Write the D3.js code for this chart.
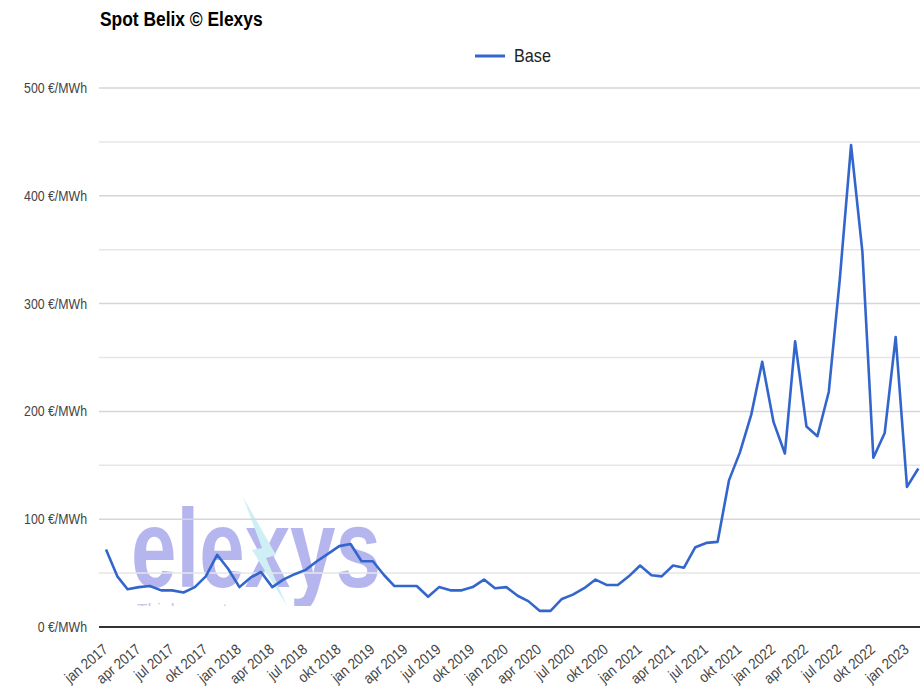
<!DOCTYPE html>
<html>
<head>
<meta charset="utf-8">
<script src="https://cdn.jsdelivr.net/npm/d3@7"></script>
<style>
  body { margin: 0; background: #fff; }
  svg { display: block; font-family: "Liberation Sans", Arial, sans-serif; }
</style>
</head>
<body>
<svg width="920" height="688"></svg>
<script>
// monthly spot price, jan 2017 .. feb 2023
var months = [
  "2017-01","2017-02","2017-03","2017-04","2017-05","2017-06","2017-07","2017-08","2017-09","2017-10","2017-11","2017-12",
  "2018-01","2018-02","2018-03","2018-04","2018-05","2018-06","2018-07","2018-08","2018-09","2018-10","2018-11","2018-12",
  "2019-01","2019-02","2019-03","2019-04","2019-05","2019-06","2019-07","2019-08","2019-09","2019-10","2019-11","2019-12",
  "2020-01","2020-02","2020-03","2020-04","2020-05","2020-06","2020-07","2020-08","2020-09","2020-10","2020-11","2020-12",
  "2021-01","2021-02","2021-03","2021-04","2021-05","2021-06","2021-07","2021-08","2021-09","2021-10","2021-11","2021-12",
  "2022-01","2022-02","2022-03","2022-04","2022-05","2022-06","2022-07","2022-08","2022-09","2022-10","2022-11","2022-12",
  "2023-01","2023-02"
];
var base = [
  72, 47, 35, 37, 38, 34, 34, 32, 37, 47, 67, 54,
  37, 46, 51, 37, 44, 49, 53, 61, 68, 75, 77, 61,
  61, 48, 38, 38, 38, 28, 37, 34, 34, 37, 44, 36,
  37, 29, 24, 15, 15, 26, 30, 36, 44, 39, 39, 47,
  57, 48, 47, 57, 55, 74, 78, 79, 136, 162, 197, 246,
  190, 161, 265, 186, 177, 218, 322, 447, 348, 157, 180, 269,
  130, 147
];
var yTicks = [0, 100, 200, 300, 400, 500];
var tickLabels = [
  "jan 2017","apr 2017","jul 2017","okt 2017","jan 2018","apr 2018","jul 2018","okt 2018",
  "jan 2019","apr 2019","jul 2019","okt 2019","jan 2020","apr 2020","jul 2020","okt 2020",
  "jan 2021","apr 2021","jul 2021","okt 2021","jan 2022","apr 2022","jul 2022","okt 2022","jan 2023"
];
var monthNames = ["jan","feb","mrt","apr","mei","jun","jul","aug","sep","okt","nov","dec"];

var parseMonth = d3.timeParse("%Y-%m");
var data = months.map(function(m, i) { return { date: parseMonth(m), value: base[i] }; });

var svg = d3.select("svg");
var left = 99, right = 940;

var x = d3.scaleTime()
    .domain([parseMonth("2017-01"), parseMonth("2023-01")])
    .range([106, 907]);
var y = d3.scaleLinear().domain([0, 500]).range([627, 88]);

// title
svg.append("text")
    .attr("transform", "translate(100,26) scale(0.87,1)")
    .attr("font-size", 20).attr("font-weight", "bold").attr("fill", "#000")
    .text("Spot Belix \u00a9 Elexys");

// legend
svg.append("line")
    .attr("x1", 475).attr("x2", 505).attr("y1", 56).attr("y2", 56)
    .attr("stroke", "#3366cc").attr("stroke-width", 3);
svg.append("text")
    .attr("transform", "translate(514,62) scale(0.9,1)")
    .attr("font-size", 18).attr("fill", "#222")
    .text("Base");

// watermark
var wm = svg.append("g").attr("opacity", 0.5);
wm.append("clipPath").attr("id", "wmclip")
  .append("rect").attr("x", 100).attr("y", 480).attr("width", 320).attr("height", 126);
var wmg = wm.append("g").attr("clip-path", "url(#wmclip)");
wmg.append("text")
    .attr("x", 131).attr("y", 587)
    .attr("font-size", 112).attr("font-weight", "bold").attr("fill", "#6f6fe0")
    .attr("textLength", 250).attr("lengthAdjust", "spacingAndGlyphs")
    .text("elexys");
wmg.append("path")
    .attr("d", "M243,497 L262,548 L252,550 L287,606 L266,558 L276,555 Z")
    .attr("fill", "#9fe0ea");
wmg.append("text")
    .attr("x", 137).attr("y", 614)
    .attr("font-size", 15).attr("fill", "#8d8de6")
    .attr("textLength", 148).attr("lengthAdjust", "spacingAndGlyphs")
    .text("Think smart energy");

// gridlines
var grid = d3.range(50, 501, 50);
svg.append("g").selectAll("line")
  .data(grid).enter().append("line")
    .attr("x1", left).attr("x2", right)
    .attr("y1", function(d) { return y(d); })
    .attr("y2", function(d) { return y(d); })
    .attr("stroke", function(d) { return d % 100 === 0 ? "#d6d6d6" : "#e6e6e6"; })
    .attr("stroke-width", 1.5);

// y labels
svg.append("g").selectAll("text")
  .data(yTicks).enter().append("text")
    .attr("transform", function(d) { return "translate(87," + y(d) + ") scale(0.88,1)"; })
    .attr("dy", "0.36em")
    .attr("text-anchor", "end")
    .attr("font-size", 14).attr("fill", "#444")
    .text(function(d) { return d + " \u20ac/MWh"; });

// x labels
var tickDates = tickLabels.map(function(t) {
    var p = t.split(" ");
    return new Date(+p[1], monthNames.indexOf(p[0]), 1);
});
svg.append("g").selectAll("text")
  .data(tickDates).enter().append("text")
    .attr("transform", function(d) { return "translate(" + (x(d) - 4) + ",643) rotate(-40) scale(0.88,1)"; })
    .attr("text-anchor", "end")
    .attr("dy", "0.7em")
    .attr("font-size", 15).attr("fill", "#444")
    .text(function(d, i) { return tickLabels[i]; });

// base line
svg.append("line")
    .attr("x1", left).attr("x2", right)
    .attr("y1", y(0)).attr("y2", y(0))
    .attr("stroke", "#333").attr("stroke-width", 2);

// series
var line = d3.line()
    .x(function(d) { return x(d.date); })
    .y(function(d) { return y(d.value); });
svg.append("path")
    .datum(data)
    .attr("d", line)
    .attr("fill", "none")
    .attr("stroke", "#3366cc")
    .attr("stroke-width", 2.6)
    .attr("stroke-linejoin", "round");
</script>
</body>
</html>
